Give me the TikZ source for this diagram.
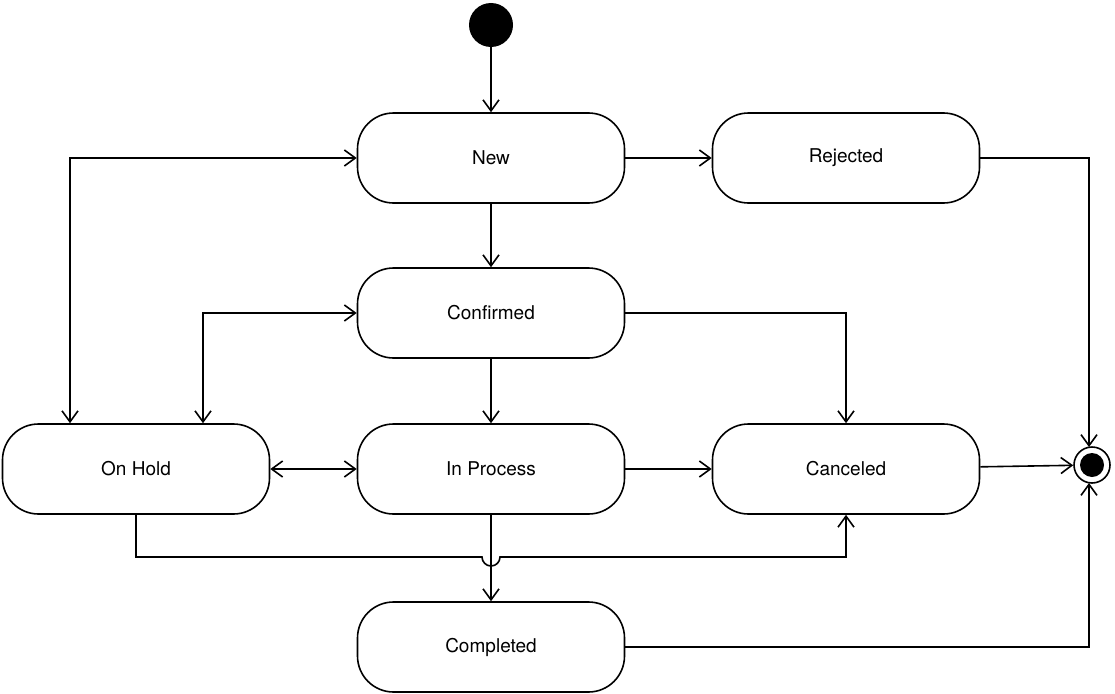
\documentclass[tikz,border=0pt]{standalone}
\usepackage{fontspec}
\setmainfont{TeX Gyre Heros}
\usetikzlibrary{arrows.meta}
\begin{document}
\begin{tikzpicture}[x=1pt,y=-1pt,
  st/.style={draw,line width=1.6pt,rounded corners=36pt,minimum width=267pt,minimum height=90pt,font=\fontsize{19}{22}\selectfont},
  ed/.style={line width=1.6pt,-{Straight Barb[length=11pt,width=16pt,line width=1.6pt]}},
  bd/.style={line width=1.6pt,{Straight Barb[length=11pt,width=16pt,line width=1.6pt]}-{Straight Barb[length=11pt,width=16pt,line width=1.6pt]}}]
\useasboundingbox (0,0) rectangle (1115,693);
\node[st] (new) at (491,158) {New};
\node[st] (rej) at (846,158) {Rejected};
\node[st] (conf) at (491,313) {Confirmed};
\node[st] (hold) at (136,469) {On Hold};
\node[st] (proc) at (491,469) {In Process};
\node[st] (canc) at (846,469) {Canceled};
\node[st] (comp) at (491,647) {Completed};
\fill (491,25) circle (22) coordinate (start);
\node[circle,draw,line width=1.6pt,minimum size=36pt,inner sep=0pt] (end) at (1092,465) {};
\fill (1092,465) circle (12);
\draw[ed] (start) ++(0,22) -- (new.north);
\draw[bd] (hold.north -| 70,0) -- (70,158) -- (new.west);
\draw[bd] (hold.north -| 203,0) -- (203,313) -- (conf.west);
\draw[ed] (new) -- (rej);
\draw[ed] (new) -- (conf);
\draw[ed] (conf) -- (proc);
\draw[ed] (conf.east) -- (846,313) -- (canc.north);
\draw[bd] (hold) -- (proc);
\draw[ed] (proc) -- (canc);
\draw[ed] (canc) -- (end);
\draw[ed] (rej.east) -- (1089,158) -- (1089,447);
\draw[ed] (comp.east) -- (1089,647) -- (1089,483);
\draw[ed] (hold.south) -- (136,557) -- (482,557) arc[start angle=180,end angle=0,radius=9] -- (846,557) -- (canc.south);
\draw[ed] (proc) -- (comp);
\end{tikzpicture}
\end{document}
